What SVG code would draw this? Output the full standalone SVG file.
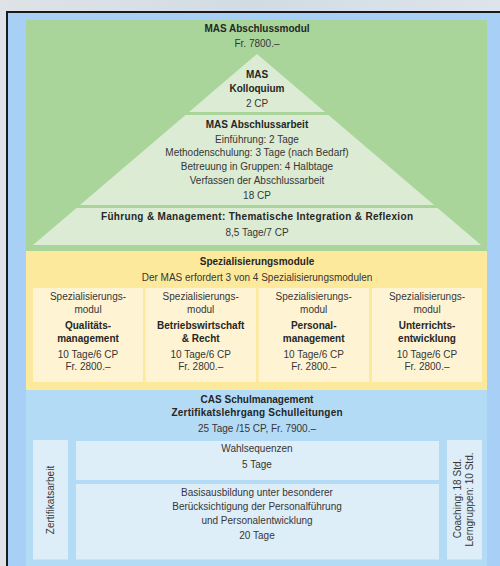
<svg xmlns="http://www.w3.org/2000/svg" width="500" height="566" viewBox="0 0 500 566">
<defs>
<linearGradient id="bg" x1="0" y1="0" x2="1" y2="0">
<stop offset="0" stop-color="#dfe3e8"/>
<stop offset="0.5" stop-color="#d2dbe4"/>
<stop offset="1" stop-color="#dde4ec"/>
</linearGradient>
</defs>
<style>
text{font-family:"Liberation Sans",Arial,sans-serif;font-size:10px;fill:#363636;text-anchor:middle}
.b{font-weight:bold;fill:#262626}
.pyr{fill:#dcebd3}
.card{fill:#fef4d4}
.cas{fill:#deeef9}
</style>
<rect x="0" y="0" width="500" height="566" fill="url(#bg)"/>
<rect x="8" y="13" width="492" height="553" fill="#a8cff6"/>
<path d="M7,566 V12 H500" fill="none" stroke="#1a1a1a" stroke-width="2"/>

<g id="mas-abschlussmodul">
<rect x="26" y="20" width="461" height="231" fill="#a9d59b"/>
<text class="b" x="257" y="32">MAS Abschlussmodul</text>
<text x="257" y="47">Fr. 7800.–</text>
</g>

<g id="kolloquium">
<polygon class="pyr" points="257,54 325,112 189,112"/>
<text class="b" x="257" y="78">MAS</text>
<text class="b" x="257" y="91.5">Kolloquium</text>
<text x="257" y="106.5">2 CP</text>
</g>

<g id="abschlussarbeit">
<polygon class="pyr" points="185.5,115 328.5,115 434,205 80,205"/>
<text class="b" x="257" y="127.5">MAS Abschlussarbeit</text>
<text x="257" y="142.5">Einführung: 2 Tage</text>
<text x="257" y="156">Methodenschulung: 3 Tage (nach Bedarf)</text>
<text x="257" y="170">Betreuung in Gruppen: 4 Halbtage</text>
<text x="257" y="183.5">Verfassen der Abschlussarbeit</text>
<text x="257" y="198.5">18 CP</text>
</g>

<g id="fuehrung-management">
<polygon class="pyr" points="76.5,208 437.5,208 481,245 33,245"/>
<text class="b" x="257" y="220" textLength="312" lengthAdjust="spacing">Führung &amp; Management: Thematische Integration &amp; Reflexion</text>
<text x="257" y="235.5">8,5 Tage/7 CP</text>
</g>

<g id="spezialisierungsmodule">
<rect x="26" y="251" width="461" height="139" fill="#fde99c"/>
<text class="b" x="257" y="265">Spezialisierungsmodule</text>
<text x="257" y="280.5">Der MAS erfordert 3 von 4 Spezialisierungsmodulen</text>
</g>

<g id="modul-qualitaet">
<rect class="card" x="33" y="288" width="110" height="94"/>
<text x="88" y="300">Spezialisierungs-</text>
<text x="88" y="312.5">modul</text>
<text class="b" x="88" y="328.5">Qualitäts-</text>
<text class="b" x="88" y="341.5">management</text>
<text x="88" y="357.5">10 Tage/6 CP</text>
<text x="88" y="370">Fr. 2800.–</text>
</g>

<g id="modul-betriebswirtschaft">
<rect class="card" x="145.5" y="288" width="110.5" height="94"/>
<text x="200.7" y="300">Spezialisierungs-</text>
<text x="200.7" y="312.5">modul</text>
<text class="b" x="200.7" y="328.5">Betriebswirtschaft</text>
<text class="b" x="200.7" y="341.5">&amp; Recht</text>
<text x="200.7" y="357.5">10 Tage/6 CP</text>
<text x="200.7" y="370">Fr. 2800.–</text>
</g>

<g id="modul-personal">
<rect class="card" x="258.5" y="288" width="110.5" height="94"/>
<text x="313.7" y="300">Spezialisierungs-</text>
<text x="313.7" y="312.5">modul</text>
<text class="b" x="313.7" y="328.5">Personal-</text>
<text class="b" x="313.7" y="341.5">management</text>
<text x="313.7" y="357.5">10 Tage/6 CP</text>
<text x="313.7" y="370">Fr. 2800.–</text>
</g>

<g id="modul-unterricht">
<rect class="card" x="372" y="288" width="110" height="94"/>
<text x="427" y="300">Spezialisierungs-</text>
<text x="427" y="312.5">modul</text>
<text class="b" x="427" y="328.5">Unterrichts-</text>
<text class="b" x="427" y="341.5">entwicklung</text>
<text x="427" y="357.5">10 Tage/6 CP</text>
<text x="427" y="370">Fr. 2800.–</text>
</g>

<g id="cas-schulmanagement">
<rect x="26" y="390" width="461" height="176" fill="#b4dbf5"/>
<text class="b" x="257" y="402.5">CAS Schulmanagement</text>
<text class="b" x="257" y="416" textLength="171" lengthAdjust="spacing">Zertifikatslehrgang Schulleitungen</text>
<text x="257" y="431.5">25 Tage /15 CP, Fr. 7900.–</text>
</g>

<g id="zertifikatsarbeit">
<rect class="cas" x="33" y="440" width="35" height="119.5"/>
<text transform="translate(54,500) rotate(-90)">Zertifikatsarbeit</text>
</g>

<g id="wahlsequenzen">
<rect class="cas" x="76" y="441" width="363" height="39"/>
<text x="257" y="452">Wahlsequenzen</text>
<text x="257" y="468">5 Tage</text>
</g>

<g id="basisausbildung">
<rect class="cas" x="76" y="484" width="363" height="75.5"/>
<text x="257" y="496">Basisausbildung unter besonderer</text>
<text x="257" y="509.5">Berücksichtigung der Personalführung</text>
<text x="257" y="523.5">und Personalentwicklung</text>
<text x="257" y="539">20 Tage</text>
</g>

<g id="coaching">
<rect class="cas" x="447" y="440" width="35" height="119.5"/>
<text transform="translate(460.5,498.5) rotate(-90)">Coaching: 18 Std.</text>
<text transform="translate(472.5,499.5) rotate(-90)">Lerngruppen: 10 Std.</text>
</g>
</svg>
